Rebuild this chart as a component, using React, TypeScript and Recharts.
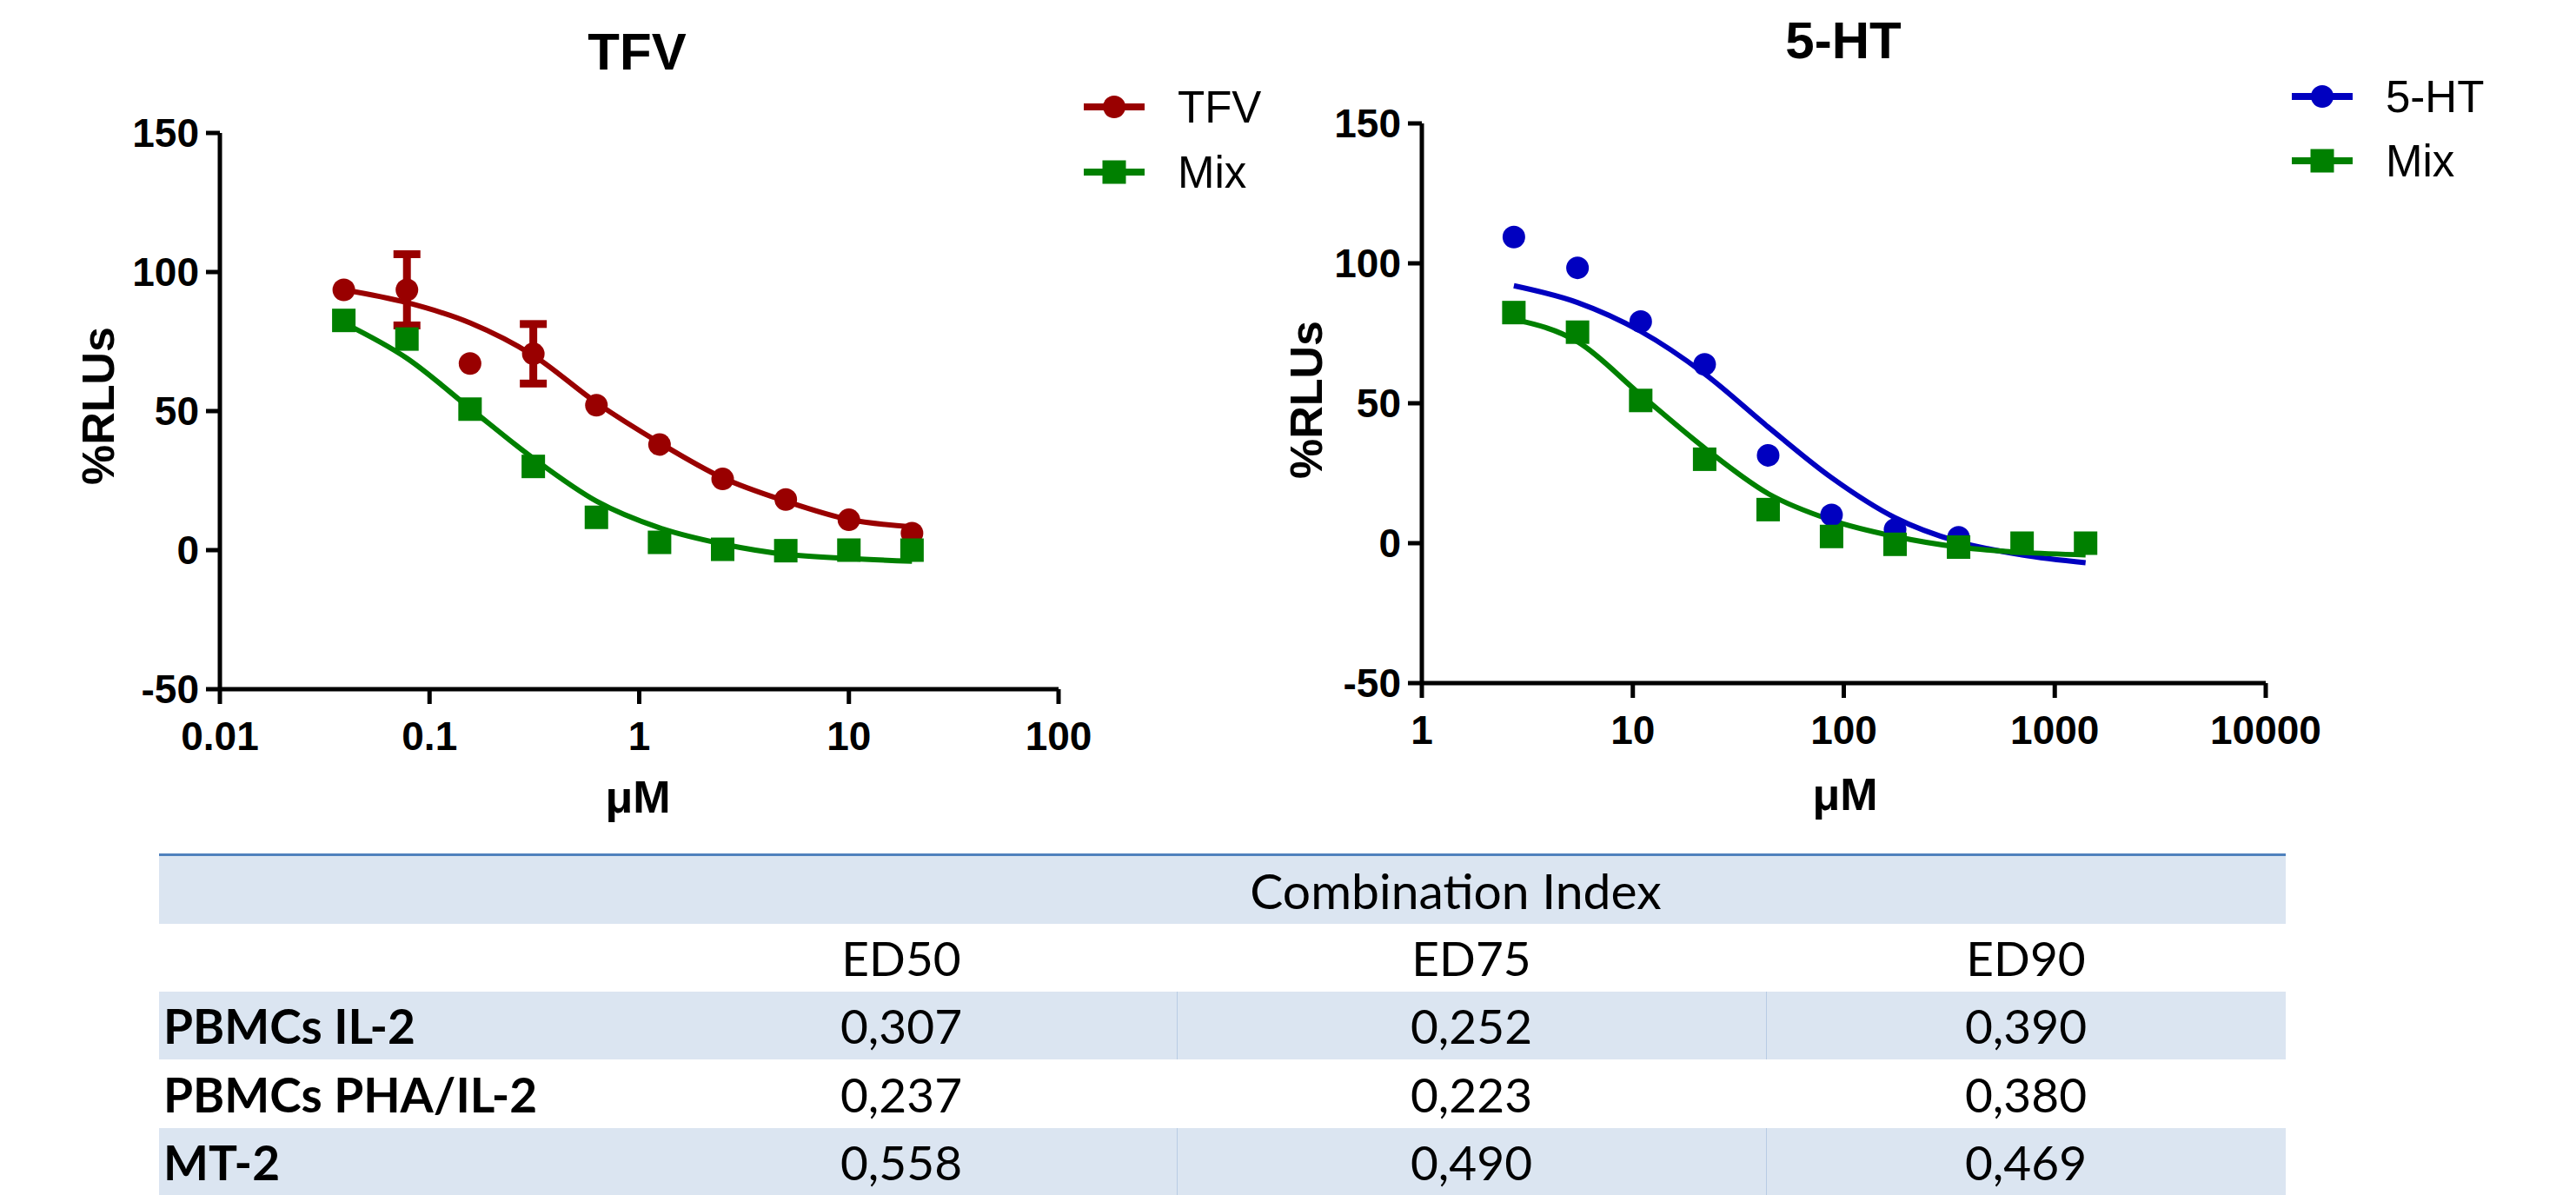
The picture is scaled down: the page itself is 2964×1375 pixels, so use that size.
import { ComposedChart, Line, Scatter, ErrorBar, XAxis, YAxis } from 'recharts'

// TFV panel (2-fold dilutions, µM)
const tfvConc = [0.039, 0.078, 0.156, 0.3125, 0.625, 1.25, 2.5, 5, 10, 20]
const tfvResp = [93.6, 93.6, 67.1, 70.6, 52.1, 38.0, 25.6, 18.2, 10.9, 6.1]
const tfvSem = [0, 12.8, 0, 10.7, 0, 0, 0, 0, 0, 0]
const tfvMixResp = [82.6, 75.9, 50.7, 30.1, 11.8, 2.8, 0.3, -0.2, 0, 0]
const tfvFit = [93.6, 89, 81.7, 70, 53, 38.6, 26, 17.6, 11, 8.4]
const tfvMixFit = [81.7, 69, 51, 33, 17.6, 8, 2.2, -1.5, -3, -4]

// 5-HT panel
const htConc = [2.73, 5.47, 10.9, 21.9, 43.8, 87.5, 175, 350, 700, 1400]
const htResp = [109.4, 98.4, 79.2, 63.9, 31.4, 10.1, 4.9, 2.1]
const htMixResp = [82.4, 75.4, 51, 30, 12, 2.4, -0.4, -1.4, 0, 0]
const htFit = [92, 86, 75.7, 60.5, 41.5, 23.4, 9.1, 0.5, -4.2, -7]
const htMixFit = [80, 72, 53, 34, 17.7, 8.2, 2.4, -1.4, -3.3, -4.2]

const yTicks = [-50, 0, 50, 100, 150]
const tfvTicks = [0.01, 0.1, 1, 10, 100]
const htTicks = [1, 10, 100, 1000, 10000]

// Combination index table
const ciHeaders = ['ED50', 'ED75', 'ED90']
const ciRows = ['PBMCs IL-2', 'PBMCs PHA/IL-2', 'MT-2']
const ciValues = [
  ['0,307', '0,252', '0,390'],
  ['0,237', '0,223', '0,380'],
  ['0,558', '0,490', '0,469'],
]

const RED = '#990000'
const GREEN = '#008000'
const BLUE = '#0000c0'
const ARIAL = "'Liberation Sans', Arial, sans-serif"
const TABLE_FONT = "Lato, 'Open Sans', sans-serif"

const zip = (xs: number[], ys: number[], err?: number[]) =>
  ys.map((y, i) => ({ x: xs[i], y, err: err ? err[i] : 0 }))

const Dot = ({ cx, cy, fill }: any) => <circle cx={cx} cy={cy} r={13} fill={fill} />
const Sq = ({ cx, cy, fill }: any) => <rect x={cx - 13.5} y={cy - 13.5} width={27} height={27} fill={fill} />

interface PanelProps {
  left: number
  width: number
  plotLeft: number
  plotRight: number
  plotTop: number
  plotBottom: number
  domain: [number, number]
  ticks: number[]
  drug: { x: number; y: number; err: number }[]
  drugFit: { x: number; y: number }[]
  mix: { x: number; y: number }[]
  mixFit: { x: number; y: number }[]
  color: string
}

function Panel(p: PanelProps) {
  const H = 960
  const xAxisH = 100
  const axisStyle = { stroke: '#000', strokeWidth: 5 }
  const tickStyle = { fill: '#000', fontSize: 46, fontWeight: 700, fontFamily: ARIAL }
  return (
    <div style={{ position: 'absolute', left: p.left, top: 0 }}>
      <ComposedChart
        width={p.width}
        height={H}
        margin={{ top: p.plotTop, right: p.width - p.plotRight, left: 0, bottom: H - p.plotBottom - xAxisH }}
      >
        <XAxis
          type="number"
          dataKey="x"
          scale="log"
          domain={p.domain}
          ticks={p.ticks}
          allowDataOverflow
          height={xAxisH}
          axisLine={axisStyle}
          tickLine={axisStyle}
          tickSize={17}
          tickMargin={20}
          tick={tickStyle}
          interval={0}
        />
        <YAxis
          type="number"
          dataKey="y"
          domain={[-50, 150]}
          ticks={yTicks}
          allowDataOverflow
          width={p.plotLeft}
          axisLine={axisStyle}
          tickLine={axisStyle}
          tickSize={16}
          tickMargin={8}
          tick={tickStyle}
          interval={0}
        />
        <Line data={p.drugFit} dataKey="y" type="monotone" stroke={p.color} strokeWidth={6} dot={false} isAnimationActive={false} />
        <Line data={p.mixFit} dataKey="y" type="monotone" stroke={GREEN} strokeWidth={6} dot={false} isAnimationActive={false} />
        <Scatter data={p.drug} fill={p.color} shape={<Dot />} isAnimationActive={false}>
          <ErrorBar dataKey="err" direction="y" width={15.5} strokeWidth={9} stroke={p.color} />
        </Scatter>
        <Scatter data={p.mix} fill={GREEN} shape={<Sq />} isAnimationActive={false} />
      </ComposedChart>
    </div>
  )
}

function LegendRow({ x, y, color, label, square }: { x: number; y: number; color: string; label: string; square?: boolean }) {
  return (
    <g>
      <line x1={x} y1={y} x2={x + 70} y2={y} stroke={color} strokeWidth={8} />
      {square
        ? <rect x={x + 35 - 13.5} y={y - 13.5} width={27} height={27} fill={color} />
        : <circle cx={x + 35} cy={y} r={13} fill={color} />}
      <text x={x + 108} y={y + 18} fontSize={51} fontFamily={ARIAL} fill="#000">{label}</text>
    </g>
  )
}

export default function App() {
  const labelStyle = { fontFamily: ARIAL, fontWeight: 700, fill: '#000' }
  const rowTop = [1063, 1141, 1220, 1298]
  const rowH = 78
  const cols = [183, 720, 1354, 2032, 2630]
  return (
    <div style={{ position: 'absolute', left: 0, top: 0, width: 2964, height: 1375, background: '#fff', overflow: 'hidden' }}>
      <Panel
        left={0}
        width={1482}
        plotLeft={253}
        plotRight={1218}
        plotTop={153}
        plotBottom={793}
        domain={[0.01, 100]}
        ticks={tfvTicks}
        drug={zip(tfvConc, tfvResp, tfvSem)}
        drugFit={zip(tfvConc, tfvFit)}
        mix={zip(tfvConc, tfvMixResp)}
        mixFit={zip(tfvConc, tfvMixFit)}
        color={RED}
      />
      <Panel
        left={1482}
        width={1482}
        plotLeft={154}
        plotRight={1125}
        plotTop={142}
        plotBottom={786}
        domain={[1, 10000]}
        ticks={htTicks}
        drug={zip(htConc, htResp)}
        drugFit={zip(htConc, htFit)}
        mix={zip(htConc, htMixResp)}
        mixFit={zip(htConc, htMixFit)}
        color={BLUE}
      />

      {/* titles, axis labels, legends */}
      <svg width={2964} height={960} style={{ position: 'absolute', left: 0, top: 0, pointerEvents: 'none' }}>
        <text x={733} y={80} textAnchor="middle" fontSize={60} {...labelStyle}>TFV</text>
        <text x={2121} y={67} textAnchor="middle" fontSize={60} {...labelStyle}>5-HT</text>
        <text x={131} y={467} textAnchor="middle" fontSize={52} transform="rotate(-90, 131, 467)" {...labelStyle}>%RLUs</text>
        <text x={1521} y={460} textAnchor="middle" fontSize={52} transform="rotate(-90, 1521, 460)" {...labelStyle}>%RLUs</text>
        <text x={734} y={935} textAnchor="middle" fontSize={52} {...labelStyle}>μM</text>
        <text x={2123} y={932} textAnchor="middle" fontSize={52} {...labelStyle}>μM</text>
        <LegendRow x={1247} y={123} color={RED} label="TFV" />
        <LegendRow x={1247} y={198} color={GREEN} label="Mix" square />
        <LegendRow x={2637} y={111} color={BLUE} label="5-HT" />
        <LegendRow x={2637} y={185} color={GREEN} label="Mix" square />
      </svg>

      {/* combination index table */}
      <div style={{ position: 'absolute', left: cols[0], top: 982, width: cols[4] - cols[0], height: 3, background: '#4f81bd' }} />
      <div style={{ position: 'absolute', left: cols[0], top: 985, width: cols[4] - cols[0], height: rowH, background: '#dbe5f1' }} />
      <div style={{ position: 'absolute', left: cols[1], top: 985, width: cols[4] - cols[1], height: rowH, display: 'flex', alignItems: 'center', justifyContent: 'center', fontFamily: TABLE_FONT, fontSize: 57 }}>
        Combination Index
      </div>
      {ciHeaders.map((h, j) => (
        <div key={h} style={{ position: 'absolute', left: cols[j + 1], top: rowTop[0], width: cols[j + 2] - cols[j + 1], height: rowH, display: 'flex', alignItems: 'center', justifyContent: 'center', fontFamily: TABLE_FONT, fontSize: 55 }}>
          {h}
        </div>
      ))}
      {ciRows.map((r, i) => (
        <div key={r}>
          {i % 2 === 0 && (
            <div style={{ position: 'absolute', left: cols[0], top: rowTop[i + 1], width: cols[4] - cols[0], height: rowH, background: '#dbe5f1' }}>
              <div style={{ position: 'absolute', left: cols[2] - cols[0], top: 0, width: 1, height: rowH, background: '#b8cce4' }} />
              <div style={{ position: 'absolute', left: cols[3] - cols[0], top: 0, width: 1, height: rowH, background: '#b8cce4' }} />
            </div>
          )}
          <div style={{ position: 'absolute', left: cols[0] + 5, top: rowTop[i + 1], height: rowH, display: 'flex', alignItems: 'center', fontFamily: TABLE_FONT, fontWeight: 700, fontSize: 55 }}>
            {r}
          </div>
          {ciValues[i].map((v, j) => (
            <div key={j} style={{ position: 'absolute', left: cols[j + 1], top: rowTop[i + 1], width: cols[j + 2] - cols[j + 1], height: rowH, display: 'flex', alignItems: 'center', justifyContent: 'center', fontFamily: TABLE_FONT, fontSize: 55 }}>
              {v}
            </div>
          ))}
        </div>
      ))}
    </div>
  )
}
